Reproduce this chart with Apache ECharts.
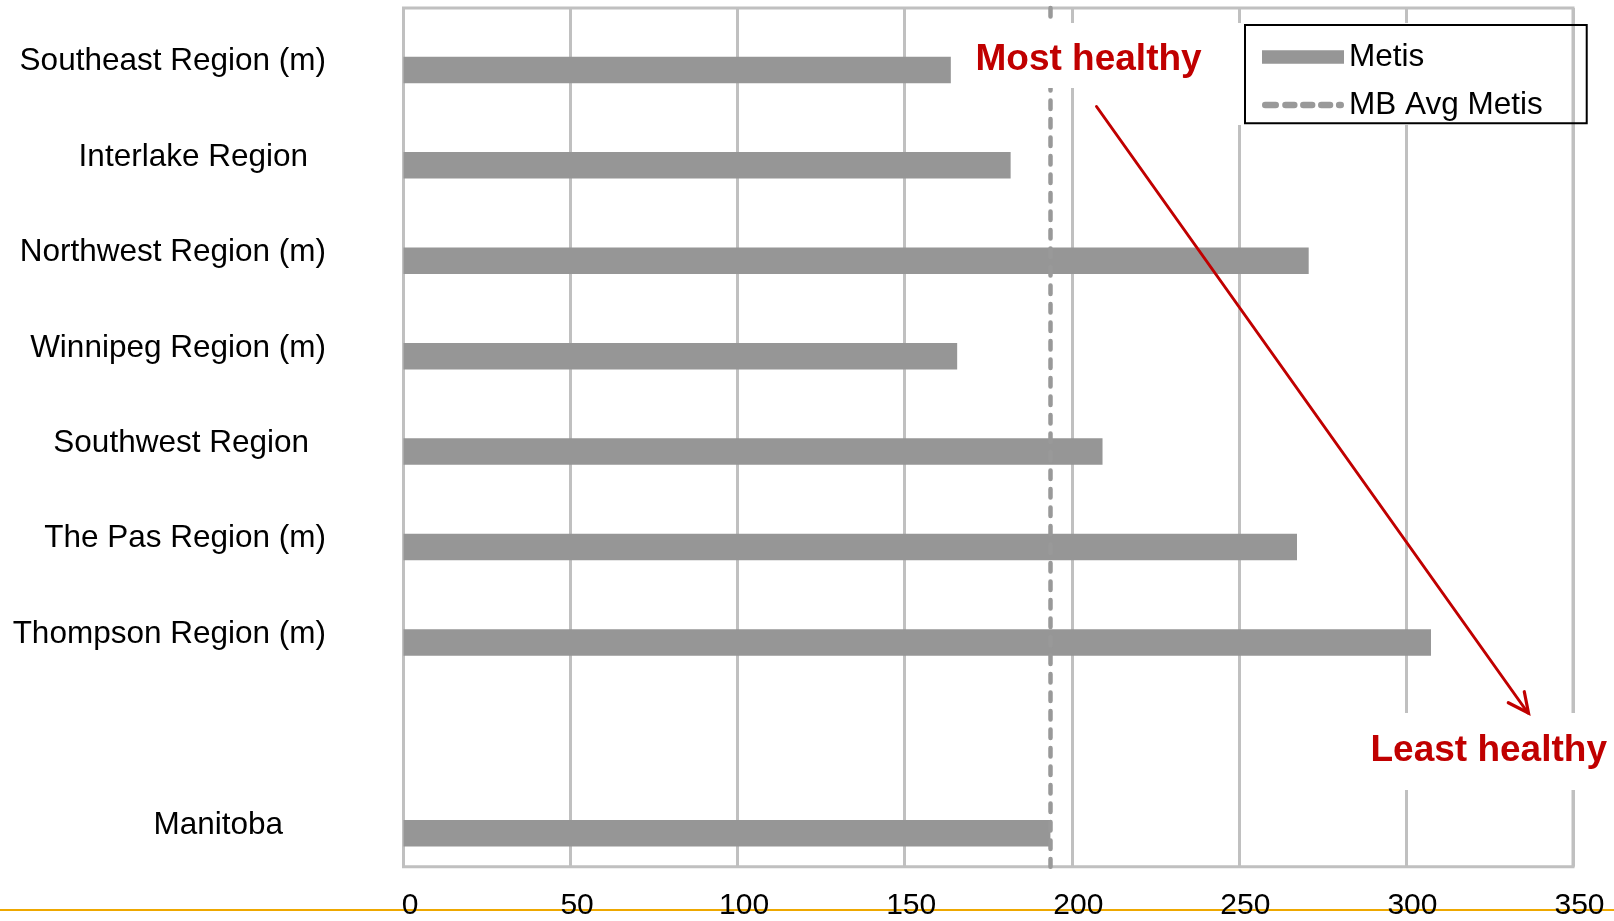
<!DOCTYPE html>
<html>
<head>
<meta charset="utf-8">
<title>Metis by region</title>
<script src="https://cdn.jsdelivr.net/npm/echarts@6/dist/echarts.min.js"></script>
<style>
  html, body { margin: 0; padding: 0; background: #ffffff; }
  #chart { width: 1614px; height: 921px; }
</style>
</head>
<body>
<div id="chart"></div>
<script>
// Regions, top to bottom; the blank entry leaves a gap above the provincial total
const categories = [
  'Southeast Region (m)',
  'Interlake Region',
  'Northwest Region (m)',
  'Winnipeg Region (m)',
  'Southwest Region',
  'The Pas Region (m)',
  'Thompson Region (m)',
  '',
  'Manitoba'
];
const metisValues = [163.8, 181.7, 270.9, 165.7, 209.2, 267.4, 307.5, null, 193.6];
const mbAvgMetis = 193.6;
const xTicks = [0, 50, 100, 150, 200, 250, 300, 350];

// Extra right indent (px) for a few region labels
const labelIndent = { 'Interlake Region': 18, 'Southwest Region': 17, 'Manitoba': 43 };

const FONT = '"Liberation Sans", Arial, Helvetica, sans-serif';
const GRID_GRAY = '#c0c0c0';
const BAR_GRAY = '#969696';
const RED = '#c00000';

// Rich styles for the region labels: each sits a little below its band centre,
// with an optional right indent
const regionRich = {};
[0].concat(Object.values(labelIndent)).forEach(n => {
  regionRich['r' + n] = {
    fontSize: 31.5,
    fontFamily: FONT,
    color: '#000000',
    padding: [12, n, 0, 0]
  };
});

// Dashed sample used as the legend icon of the average line
function pill(x0, x1, h) {
  const r = h / 2;
  return `M${x0 + r},0 H${x1 - r} A${r},${r} 0 0 1 ${x1 - r},${h} H${x0 + r} A${r},${r} 0 0 1 ${x0 + r},0 Z`;
}
const dashIcon = 'path://' + [[0, 17.4], [20.7, 36.4], [39, 54.7], [57.4, 73], [75.7, 84]]
  .map(p => pill(p[0], p[1], 6.6)).join(' ');

const chart = echarts.init(document.getElementById('chart'), null, { renderer: 'canvas' });

const option = {
  animation: false,
  backgroundColor: '#ffffff',
  textStyle: { fontFamily: FONT },
  grid: {
    left: 403.5,
    right: 41,
    top: 8,
    bottom: 54.3,
    show: true,
    borderColor: GRID_GRAY,
    borderWidth: 3,
    backgroundColor: 'transparent'
  },
  legend: {
    orient: 'vertical',
    left: 1245,
    top: 25,
    z: 8,
    padding: [16, 44, 2.3, 17],
    itemGap: 16,
    itemWidth: 82,
    itemHeight: 13.3,
    selectedMode: false,
    borderColor: '#000000',
    borderWidth: 2,
    backgroundColor: 'transparent',
    textStyle: { fontSize: 31.5, color: '#000000', fontFamily: FONT },
    data: [
      { name: 'Metis', icon: 'rect' },
      { name: 'MB Avg Metis', icon: dashIcon }
    ]
  },
  xAxis: {
    type: 'value',
    min: xTicks[0],
    max: xTicks[xTicks.length - 1],
    interval: xTicks[1] - xTicks[0],
    axisLine: { show: false },
    axisTick: { show: false },
    splitLine: { show: true, lineStyle: { color: GRID_GRAY, width: 3 } },
    axisLabel: {
      fontSize: 30,
      color: '#000000',
      fontFamily: FONT,
      margin: 24,
      padding: [0, 0, 0, 13]
    }
  },
  yAxis: {
    type: 'category',
    inverse: true,
    data: categories,
    axisLine: { show: false },
    axisTick: { show: false },
    splitLine: { show: false },
    axisLabel: {
      fontSize: 31.5,
      color: '#000000',
      fontFamily: FONT,
      margin: 77.5,
      align: 'right',
      interval: 0,
      formatter: v => (v ? `{r${labelIndent[v] || 0}|${v}}` : ''),
      rich: regionRich
    }
  },
  series: [
    {
      name: 'MB Avg Metis',
      type: 'bar',
      data: [],
      barWidth: 26.5,
      barGap: '7.5%',
      itemStyle: { color: '#999999' },
      markLine: {
        silent: true,
        z: 2.5,
        symbol: ['none', 'none'],
        label: { show: false },
        emphasis: { disabled: true },
        lineStyle: { color: '#999999', width: 4.5, type: [8.5, 10], cap: 'round' },
        data: [{ xAxis: mbAvgMetis }]
      }
    },
    {
      name: 'Metis',
      type: 'bar',
      data: metisValues,
      barWidth: 26.5,
      barGap: '7.5%',
      itemStyle: { color: BAR_GRAY },
      emphasis: { disabled: true }
    }
  ],
  graphic: [
    // footer rule of the slide
    { type: 'line', z: 0, shape: { x1: 0, y1: 910, x2: 1614, y2: 910 },
      style: { stroke: '#eea800', lineWidth: 2 } },
    // white panels behind the annotations and the legend
    { type: 'rect', z: 6, shape: { x: 955, y: 23, width: 285, height: 65 },
      style: { fill: '#ffffff' } },
    { type: 'rect', z: 6, shape: { x: 1232, y: 23, width: 339, height: 102 },
      style: { fill: '#ffffff' } },
    { type: 'rect', z: 6, shape: { x: 1345, y: 713, width: 269, height: 77 },
      style: { fill: '#ffffff' } },
    { type: 'text', z: 7, x: 975.5, y: 60,
      style: { text: 'Most healthy', fill: RED, font: 'bold 37px ' + FONT,
        align: 'left', verticalAlign: 'middle' } },
    { type: 'text', z: 7, x: 1370.5, y: 751,
      style: { text: 'Least healthy', fill: RED, font: 'bold 37px ' + FONT,
        align: 'left', verticalAlign: 'middle' } },
    // arrow from most to least healthy
    { type: 'polyline', z: 7, shape: { points: [[1096.5, 106.5], [1528, 713]] },
      style: { stroke: RED, lineWidth: 3, lineCap: 'round', fill: null } },
    { type: 'polyline', z: 7, shape: { points: [[1508.3, 702.7], [1528.5, 713], [1524.3, 691.7]] },
      style: { stroke: RED, lineWidth: 3.2, lineCap: 'round', lineJoin: 'miter', fill: null } }
  ]
};

chart.setOption(option);
</script>
</body>
</html>
